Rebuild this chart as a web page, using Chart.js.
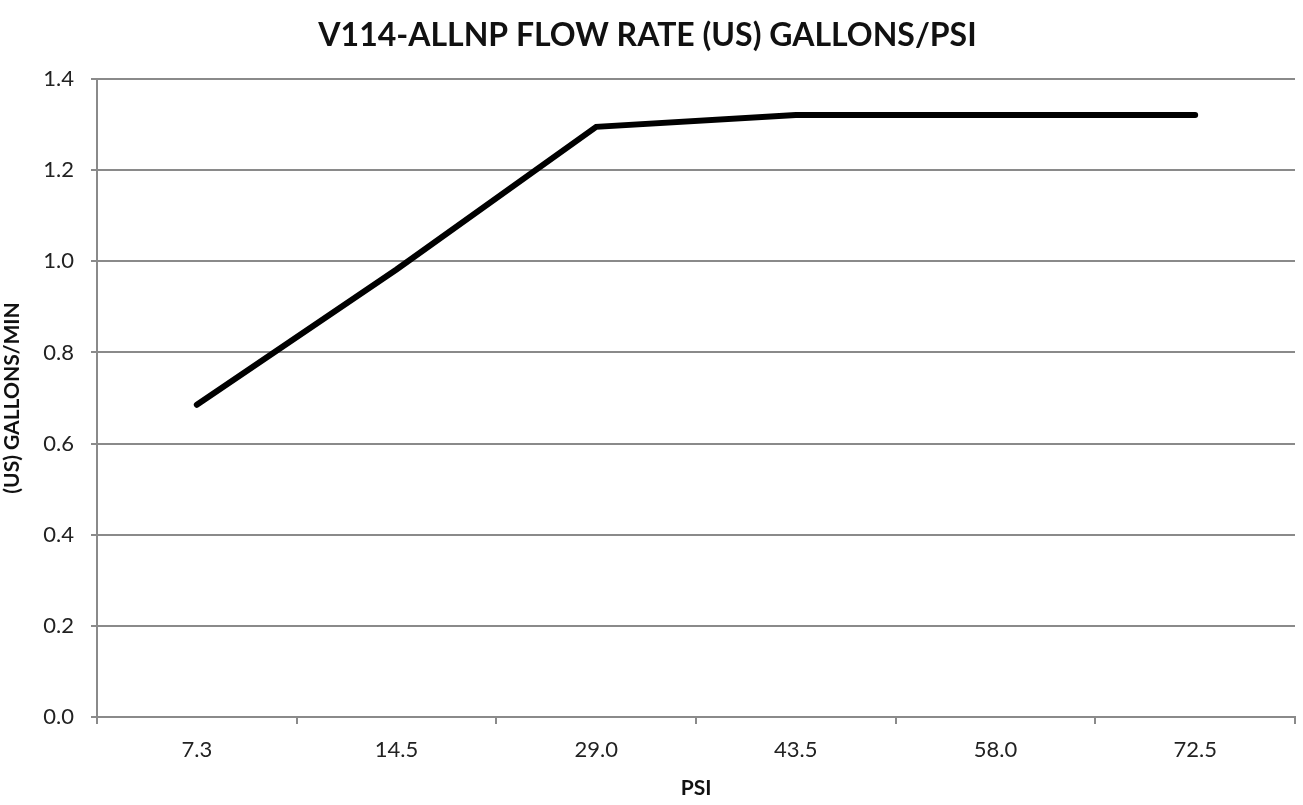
<!DOCTYPE html>
<html>
<head>
<meta charset="utf-8">
<script src="https://cdn.jsdelivr.net/npm/chart.js@4/dist/chart.umd.min.js"></script>
<style>
  html, body { margin: 0; padding: 0; background: #fff; }
  #wrap { width: 1303px; height: 805px; }
</style>
</head>
<body>
<div id="wrap"><canvas id="chart"></canvas></div>
<script>
// Chart data
var psiLabels = ["7.3", "14.5", "29.0", "43.5", "58.0", "72.5"];
var flowValues = [0.685, 0.982, 1.295, 1.321, 1.321, 1.321];
var yTicks = [0.0, 0.2, 0.4, 0.6, 0.8, 1.0, 1.2, 1.4];

var gridGray = "#8a8a8a";
var fontFamily = "Lato, 'Open Sans', sans-serif";

var ctx = document.getElementById('chart').getContext('2d');
var chart = new Chart(ctx, {
  type: 'line',
  data: {
    labels: psiLabels,
    datasets: [{
      label: "Flow rate",
      data: flowValues,
      borderColor: "#000",
      borderWidth: 6,
      borderCapStyle: 'round',
      borderJoinStyle: 'miter',
      pointRadius: 0,
      tension: 0,
      fill: false
    }]
  },
  options: {
    responsive: true,
    maintainAspectRatio: false,
    animation: false,
    layout: { padding: { left: 0, right: 8, top: 0, bottom: 0 } },
    plugins: {
      legend: { display: false },
      tooltip: { enabled: false },
      title: {
        display: true,
        text: "V114-ALLNP FLOW RATE (US) GALLONS/PSI",
        color: "#111",
        font: { family: fontFamily, size: 32, weight: 'bold', lineHeight: 1.2 },
        padding: { top: 16, bottom: 24.6 }
      }
    },
    scales: {
      x: {
        offset: true,
        grid: {
          offset: true,
          drawOnChartArea: false,
          drawTicks: true,
          tickLength: 7,
          color: gridGray,
          lineWidth: 2
        },
        border: { display: true, color: gridGray, width: 2 },
        ticks: {
          color: "#222",
          font: { family: fontFamily, size: 22 },
          padding: 13,
          maxRotation: 0
        },
        title: {
          display: true,
          text: "PSI",
          color: "#111",
          font: { family: fontFamily, size: 21, weight: 'bold', lineHeight: 1.2 },
          padding: { top: 0, bottom: 4 }
        },
        afterFit: function(scale) { scale.height = 88; }
      },
      y: {
        min: 0,
        max: 1.4,
        afterBuildTicks: function(scale) {
          scale.ticks = yTicks.map(function(v) { return { value: v }; });
        },
        grid: {
          color: gridGray,
          lineWidth: 2,
          drawTicks: true,
          tickLength: 6
        },
        border: { display: true, color: gridGray, width: 2 },
        ticks: {
          color: "#222",
          font: { family: fontFamily, size: 22 },
          padding: 17,
          callback: function(v) { return Number(v).toFixed(1); }
        },
        title: {
          display: true,
          text: "(US) GALLONS/MIN",
          color: "#111",
          font: { family: fontFamily, size: 21, weight: 'bold', lineHeight: 1.2 },
          padding: { top: 0, bottom: 8 }
        },
        afterFit: function(scale) { scale.width = 97; }
      }
    }
  }
});
</script>
</body>
</html>
